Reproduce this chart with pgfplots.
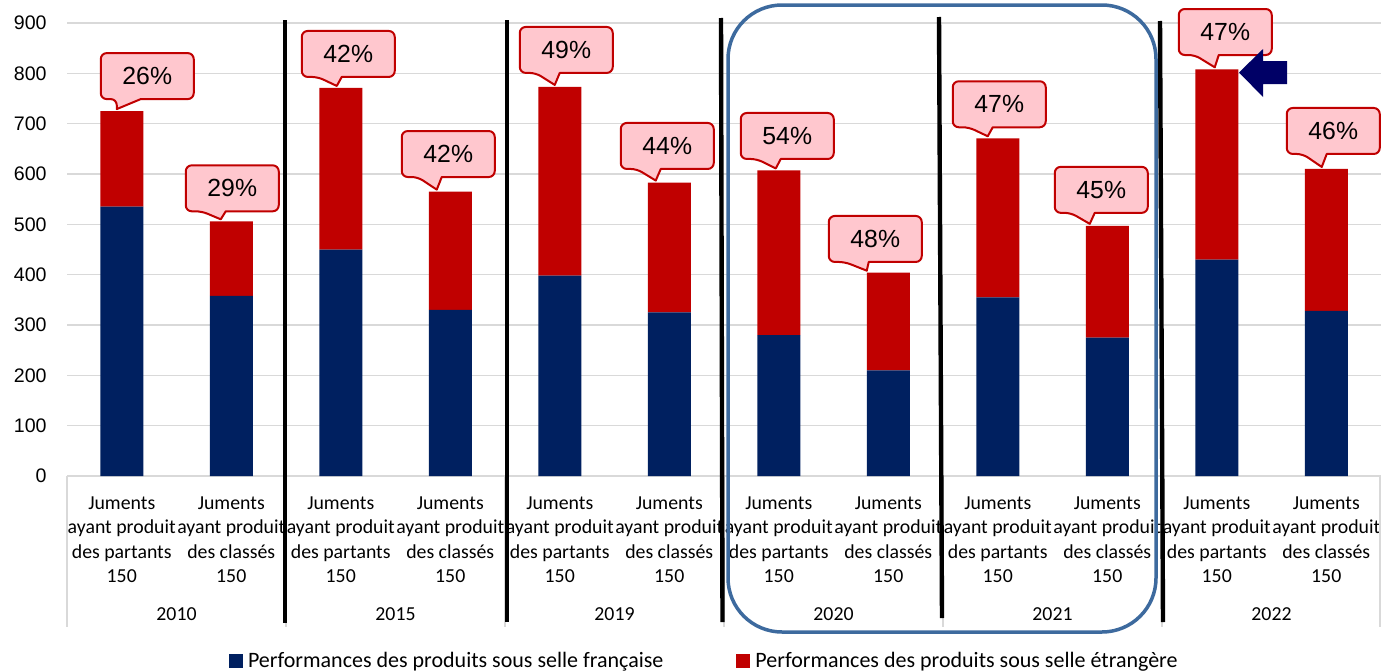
\documentclass[border=0pt]{standalone}
\usepackage{fontspec}
\setmainfont{Carlito}
\newfontfamily\arial{Liberation Sans}
\usepackage{pgfplots}
\usepackage{pgfplotstable}
\pgfplotsset{compat=1.18}

\definecolor{navy}{HTML}{002060}
\definecolor{barred}{HTML}{C00000}
\definecolor{gridgrey}{HTML}{D9D9D9}
\definecolor{calloutfill}{HTML}{FFC7CE}
\definecolor{calloutline}{HTML}{C00000}
\definecolor{frameblue}{HTML}{3D6A9E}
\definecolor{arrowblue}{HTML}{000066}

% x = position of the bar, fr = selle française, et = selle étrangère
\pgfplotstableread{
x  fr   et   total
0  535  190  725
1  358  148  506
2  450  321  771
3  330  235  565
4  398  375  773
5  325  258  583
6  280  327  607
7  210  194  404
8  355  316  671
9  275  222  497
10 430  378  808
11 328  282  610
}\data

% callout: #1 top of bar (coordinate), #2 tip dx, #3 box left, #4 box bottom, #5 text
\newcommand{\callout}[5]{%
  \draw[calloutline, fill=calloutfill, line width=1pt, line join=round]
    ([shift={(#3+20pt,#4)}]#1) [rounded corners=3pt]
    -| ([shift={(#3+46.5pt,#4+23pt)}]#1)
    -| ([shift={(#3,#4)}]#1)
    -- ([shift={(#3+8pt,#4)}]#1) [sharp corners]
    -- ([shift={(#2,1pt)}]#1) -- cycle;
  \node[font=\arial\fontsize{12.4}{14}\selectfont, inner sep=0pt, text=black]
    at ([shift={(#3+23.25pt,#4+11.5pt)}]#1) {#5};
}

\begin{document}
\begin{tikzpicture}
\begin{axis}[
  name=ax,
  scale only axis, width=657pt, height=226.5pt,
  ybar stacked, bar width=21.5pt,
  xmin=-0.5, xmax=11.5, ymin=0, ymax=900,
  ytick={0,100,...,900},
  xtick={0,...,11},
  xticklabels={
    {Juments\\ayant produit\\des partants\\150},{Juments\\ayant produit\\des classés\\150},
    {Juments\\ayant produit\\des partants\\150},{Juments\\ayant produit\\des classés\\150},
    {Juments\\ayant produit\\des partants\\150},{Juments\\ayant produit\\des classés\\150},
    {Juments\\ayant produit\\des partants\\150},{Juments\\ayant produit\\des classés\\150},
    {Juments\\ayant produit\\des partants\\150},{Juments\\ayant produit\\des classés\\150},
    {Juments\\ayant produit\\des partants\\150},{Juments\\ayant produit\\des classés\\150}},
  axis x line*=bottom, axis y line*=left,
  x axis line style={draw=gridgrey, line width=0.75pt, -},
  y axis line style={draw=none},
  major tick length=0pt,
  ymajorgrids, grid style={gridgrey, line width=0.75pt},
  /pgf/number format/assume math mode=true,
  yticklabel style={font=\arial\fontsize{9.8}{12}\selectfont, anchor=east, inner sep=0pt, xshift=-10pt},
  xticklabel style={font=\fontsize{9.9}{12.2}\selectfont, align=center, anchor=north, inner sep=0pt, yshift=-10.2pt},
  clip=false,
  legend columns=2,
  legend style={at={(rel axis cs:0.1233,0)}, anchor=west, yshift=-92.5pt,
    draw=none, fill=none, inner sep=0pt, outer sep=0pt,
    nodes={inner sep=0pt, anchor=west}, column sep=0pt,
    font=\fontsize{11}{13}\selectfont},
]
\addplot[fill=navy, draw=none,
  legend image code/.code={\fill[navy] (0pt,-3.5pt) rectangle (7pt,3.5pt);}]
  table[x=x, y=fr]{\data};
\addplot[fill=barred, draw=none,
  legend image code/.code={\fill[barred] (0pt,-3.5pt) rectangle (7pt,3.5pt);}]
  table[x=x, y=et]{\data};
\legend{\hspace{2.5pt}Performances des produits sous selle française\hspace{36.5pt}\null,
        \hspace{2.5pt}Performances des produits sous selle étrangère}

% tops of the bars
\coordinate (t0) at (axis cs:0,725);
\coordinate (t1) at (axis cs:1,506);
\coordinate (t2) at (axis cs:2,771);
\coordinate (t3) at (axis cs:3,565);
\coordinate (t4) at (axis cs:4,773);
\coordinate (t5) at (axis cs:5,583);
\coordinate (t6) at (axis cs:6,607);
\coordinate (t7) at (axis cs:7,404);
\coordinate (t8) at (axis cs:8,671);
\coordinate (t9) at (axis cs:9,497);
\coordinate (t10) at (axis cs:10,808);
\coordinate (t11) at (axis cs:11,610);

\node[anchor=base, font=\fontsize{9.9}{12}\selectfont] at ([yshift=-72pt]axis cs:0.5,0) {2010};
\node[anchor=base, font=\fontsize{9.9}{12}\selectfont] at ([yshift=-72pt]axis cs:2.5,0) {2015};
\node[anchor=base, font=\fontsize{9.9}{12}\selectfont] at ([yshift=-72pt]axis cs:4.5,0) {2019};
\node[anchor=base, font=\fontsize{9.9}{12}\selectfont] at ([yshift=-72pt]axis cs:6.5,0) {2020};
\node[anchor=base, font=\fontsize{9.9}{12}\selectfont] at ([yshift=-72pt]axis cs:8.5,0) {2021};
\node[anchor=base, font=\fontsize{9.9}{12}\selectfont] at ([yshift=-72pt]axis cs:10.5,0) {2022};
\end{axis}

\callout{t0}{-2.5pt}{-10.5pt}{6pt}{26\%}
\callout{t1}{-5.25pt}{-22.75pt}{5pt}{29\%}
\callout{t2}{-2pt}{-19.5pt}{5.5pt}{42\%}
\callout{t3}{-6.75pt}{-24.25pt}{7.3pt}{42\%}
\callout{t4}{-2.5pt}{-20pt}{7pt}{49\%}
\callout{t5}{-6.75pt}{-24.25pt}{6.8pt}{44\%}
\callout{t6}{-1.5pt}{-19pt}{5.75pt}{54\%}
\callout{t7}{-10.75pt}{-29.75pt}{5.35pt}{48\%}
\callout{t8}{-5pt}{-22.5pt}{5.5pt}{47\%}
\callout{t9}{-8.75pt}{-26.25pt}{6.5pt}{45\%}
\callout{t10}{-1pt}{-19pt}{7.15pt}{47\%}
\callout{t11}{-2.25pt}{-19.75pt}{7.5pt}{46\%}

% annotations, in pixels of the reference (origin top left)
\begin{scope}[shift={(-33.5pt,238pt)}, x=0.5pt, y=-0.5pt]
  \foreach \x in {67,286,505,724,943,1162,1380}
    \draw[gridgrey, line width=0.75pt] (\x,476) -- (\x,627);
  \draw[black, line width=2.2pt] (285,20) -- (285,623);
  \draw[black, line width=2.2pt] (507,20) -- (507,622);
  \draw[black, line width=2.2pt] (721,18) -- (722.5,622);
  \draw[black, line width=2.2pt] (939,17) -- (942,618);
  \draw[black, line width=2.2pt] (1160,21) -- (1163,622);
  \draw[frameblue, line width=1.75pt, rounded corners=27pt] (728,5) rectangle (1156,632);
  \fill[arrowblue] (1239,72.5) -- (1263,49) -- (1263,61) -- (1287,61)
    -- (1287,84) -- (1263,84) -- (1263,97) -- cycle;
\end{scope}

\pgfresetboundingbox
\path[use as bounding box] (-33.5pt,-97.5pt) rectangle (657pt,238pt);
\end{tikzpicture}
\end{document}
